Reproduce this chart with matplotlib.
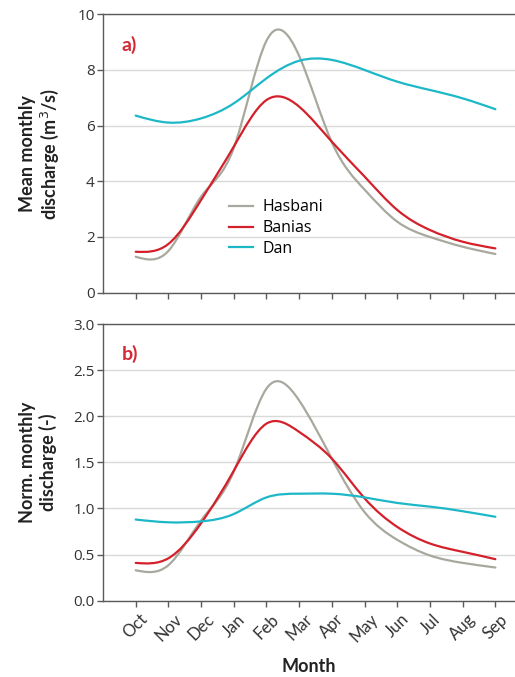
import matplotlib
matplotlib.use('Agg')
import matplotlib.pyplot as plt
import numpy as np
from matplotlib.path import Path
from matplotlib.patches import PathPatch
from matplotlib.lines import Line2D

months = ['Oct', 'Nov', 'Dec', 'Jan', 'Feb', 'Mar', 'Apr', 'May', 'Jun', 'Jul', 'Aug', 'Sep']

# mean monthly discharge (m3/s)
hasbani_q = [1.29, 1.50, 3.45, 5.20, 9.05, 8.50, 5.40, 3.70, 2.55, 2.00, 1.65, 1.39]
banias_q = [1.47, 1.75, 3.33, 5.25, 6.92, 6.68, 5.42, 4.17, 2.97, 2.25, 1.83, 1.59]
dan_q = [6.36, 6.11, 6.26, 6.80, 7.70, 8.33, 8.36, 8.00, 7.58, 7.28, 6.98, 6.59]

# normalised monthly discharge (-)
hasbani_n = [0.33, 0.385, 0.87, 1.40, 2.30, 2.17, 1.54, 0.96, 0.66, 0.49, 0.41, 0.36]
banias_n = [0.41, 0.46, 0.84, 1.41, 1.92, 1.83, 1.54, 1.11, 0.80, 0.62, 0.53, 0.45]
dan_n = [0.88, 0.85, 0.86, 0.94, 1.12, 1.16, 1.16, 1.12, 1.06, 1.02, 0.97, 0.91]

series_names = ['Hasbani', 'Banias', 'Dan']
colors = ['#a8a89e', '#d4202a', '#1cb8c8']


def smooth_line(ax, x, y, color):
    # smooth curve through the points: natural cubic spline drawn as Bezier segments
    x = np.asarray(x, float)
    y = np.asarray(y, float)
    n = len(y)
    A = np.zeros((n, n))
    r = np.zeros(n)
    A[0, 0], A[0, 1], r[0] = 2, 1, 3 * (y[1] - y[0])
    A[-1, -2], A[-1, -1], r[-1] = 1, 2, 3 * (y[-1] - y[-2])
    for i in range(1, n - 1):
        A[i, i - 1], A[i, i], A[i, i + 1] = 1, 4, 1
        r[i] = 3 * (y[i + 1] - y[i - 1])
    m = np.linalg.solve(A, r)
    verts = [(x[0], y[0])]
    codes = [Path.MOVETO]
    for i in range(n - 1):
        h = x[i + 1] - x[i]
        verts += [(x[i] + h / 3, y[i] + m[i] * h / 3),
                  (x[i + 1] - h / 3, y[i + 1] - m[i + 1] * h / 3),
                  (x[i + 1], y[i + 1])]
        codes += [Path.CURVE4] * 3
    ax.add_patch(PathPatch(Path(verts, codes), facecolor='none', edgecolor=color,
                           lw=1.6, capstyle='round', joinstyle='round', zorder=3))


fig = plt.figure(figsize=(5.15, 6.77), dpi=100)
ax1 = fig.add_axes([0.2, 0.5677, 0.8, 0.4112])
ax2 = fig.add_axes([0.2, 0.1127, 0.8, 0.4087])

x = np.arange(len(months))
spine_col = '#5a5a5a'
tick_font = 'Open Sans'
label_font = 'Lato'

for ax, data, ymax, step, tag in [(ax1, [hasbani_q, banias_q, dan_q], 10, 2, 'a)'),
                                   (ax2, [hasbani_n, banias_n, dan_n], 3.0, 0.5, 'b)')]:
    for vals, c in zip(data, colors):
        smooth_line(ax, x, vals, c)
    ax.set_xlim(-1, 11.6)
    ax.set_ylim(0, ymax)
    ax.set_yticks(np.arange(0, ymax + step / 2, step))
    ax.set_xticks(x)
    ax.grid(axis='y', color='#d9d9d9', lw=1.0, zorder=0)
    ax.set_axisbelow(True)
    for s in ['left', 'bottom', 'top']:
        ax.spines[s].set_color(spine_col)
        ax.spines[s].set_linewidth(1.0)
    ax.spines['right'].set_visible(False)
    ax.tick_params(axis='both', direction='out', length=4, color=spine_col, width=1.0)
    ax.tick_params(axis='y', labelsize=11, pad=2, labelcolor='#333333')
    ax.text(0.045, 0.89, tag, transform=ax.transAxes, color='#d42a35',
            fontsize=14, fontweight='bold', family=label_font, va='center')

ax1.set_yticklabels([f'{v:g}' for v in np.arange(0, 11, 2)], family=tick_font)
ax2.set_yticklabels([f'{v:.1f}' for v in np.arange(0, 3.01, 0.5)], family=tick_font)
ax1.tick_params(axis='x', labelbottom=False)
ax2.set_xticklabels(months, rotation=45, ha='center', fontsize=12, family=label_font, color='#333333')

ax1.set_ylabel('Mean monthly\ndischarge (m$^3$/s)', fontsize=13, fontweight='bold',
               family=label_font, color='#222222', labelpad=12, linespacing=1.15)
ax2.set_ylabel('Norm. monthly\ndischarge (-)', fontsize=13, fontweight='bold',
               family=label_font, color='#222222', labelpad=12, linespacing=1.15)
ax2.set_xlabel('Month', fontsize=13, fontweight='bold', family=label_font, color='#222222', labelpad=9)

handles = [Line2D([], [], color=c, lw=1.6) for c in colors]
ax1.legend(handles, series_names, loc='upper left', bbox_to_anchor=(0.305, 0.335),
           frameon=False, borderpad=0, borderaxespad=0, handlelength=1.5,
           handletextpad=0.6, labelspacing=0.3, prop={'family': tick_font, 'size': 11.5})

fig.savefig('out.png', dpi=100)
